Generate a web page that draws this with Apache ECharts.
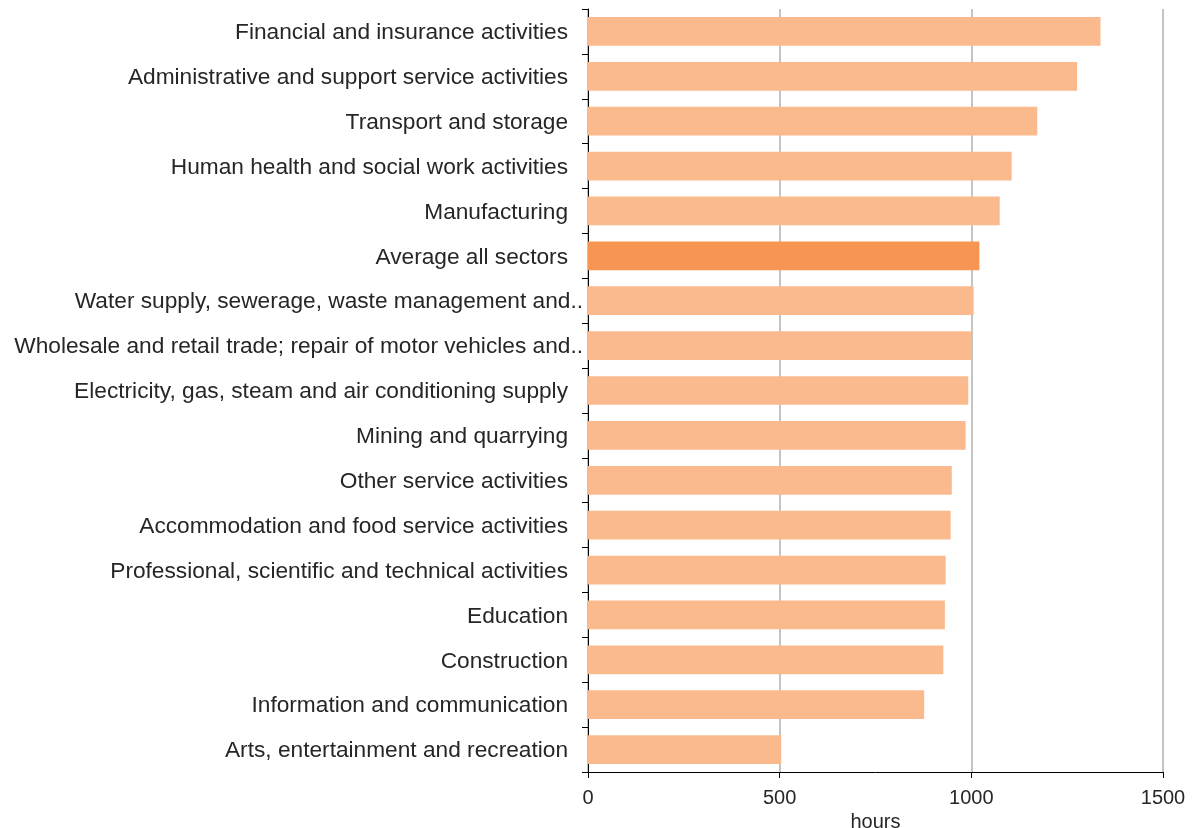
<!DOCTYPE html>
<html>
<head>
<meta charset="utf-8">
<script src="https://cdn.jsdelivr.net/npm/echarts@6/dist/echarts.min.js"></script>
<style>
  html, body { margin: 0; padding: 0; background: #fff; }
  #chart { width: 1196px; height: 828px; }
</style>
</head>
<body>
<div id="chart"></div>
<script>
var sectors = [
  'Financial and insurance activities',
  'Administrative and support service activities',
  'Transport and storage',
  'Human health and social work activities',
  'Manufacturing',
  'Average all sectors',
  'Water supply, sewerage, waste management and..',
  'Wholesale and retail trade; repair of motor vehicles and..',
  'Electricity, gas, steam and air conditioning supply',
  'Mining and quarrying',
  'Other service activities',
  'Accommodation and food service activities',
  'Professional, scientific and technical activities',
  'Education',
  'Construction',
  'Information and communication',
  'Arts, entertainment and recreation'
];
var hours = [1337, 1276, 1172, 1105, 1074, 1021, 1006, 999, 992, 985, 949, 946, 933, 931, 927, 877, 504];
var xTicks = [0, 500, 1000, 1500];

var chart = echarts.init(document.getElementById('chart'));

var option = {
  animation: false,
  grid: { left: 588, right: 33, top: 9, bottom: 56, outerBoundsMode: 'none' },
  xAxis: {
    type: 'value',
    min: xTicks[0],
    max: xTicks[xTicks.length - 1],
    interval: 500,
    name: 'hours',
    nameLocation: 'middle',
    nameGap: 36,
    nameTextStyle: { fontFamily: 'Liberation Sans', fontSize: 20, color: '#262626' },
    axisLine: { show: true, lineStyle: { color: '#000', width: 1 } },
    axisTick: { show: true, length: 6, lineStyle: { color: '#000' } },
    axisLabel: {
      fontFamily: 'Liberation Sans', fontSize: 20, color: '#262626', margin: 16,
      formatter: function (v) { return String(v); }
    },
    splitLine: { show: true, lineStyle: { color: '#c4c4c4', width: 2 } }
  },
  yAxis: {
    type: 'category',
    data: sectors,
    inverse: true,
    axisLine: { show: true, lineStyle: { color: '#000', width: 1 } },
    axisTick: { show: true, length: 6, lineStyle: { color: '#000' } },
    axisLabel: {
      fontFamily: 'Liberation Sans', fontSize: 22.7, color: '#262626', margin: 5,
      formatter: function (name) {
        // truncated names sit a little further right, as in the original
        return name.slice(-2) === '..' ? '{t|' + name + '}' : '{n|' + name + '}';
      },
      rich: {
        n: { fontFamily: 'Liberation Sans', fontSize: 22.7, color: '#262626', padding: [3, 15, 0, 0] },
        t: { fontFamily: 'Liberation Sans', fontSize: 22.7, color: '#262626', padding: [3, 0, 0, 0] }
      }
    }
  },
  series: [{
    type: 'bar',
    barWidth: '64%',
    data: hours.map(function (v, i) {
      return {
        value: v,
        itemStyle: { color: sectors[i] === 'Average all sectors' ? '#f79552' : '#fbba8d' }
      };
    })
  }]
};

chart.setOption(option);
</script>
</body>
</html>
